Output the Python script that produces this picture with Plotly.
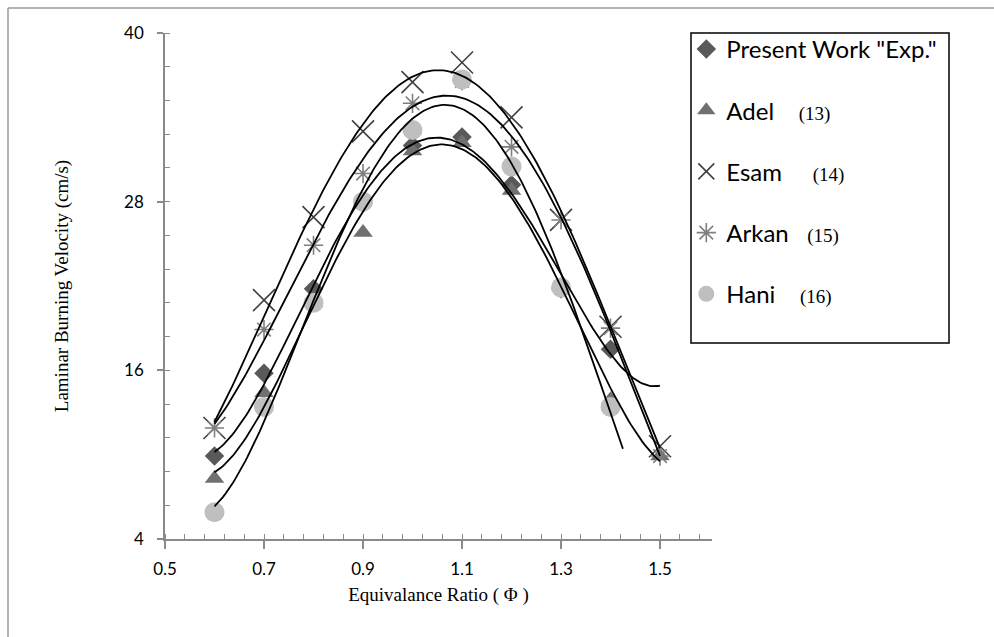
import numpy as np
import plotly.graph_objects as go

# Equivalence ratios for each data set
phi_present = [0.6, 0.7, 0.8, 0.9, 1.0, 1.1, 1.2, 1.3, 1.4]
phi_adel = [0.6, 0.7, 0.8, 0.9, 1.0, 1.1, 1.2, 1.3, 1.4, 1.5]
phi_esam = [0.6, 0.7, 0.8, 0.9, 1.0, 1.1, 1.2, 1.3, 1.4, 1.5]
phi_arkan = [0.6, 0.7, 0.8, 0.9, 1.0, 1.1, 1.2, 1.3, 1.4, 1.5]
phi_hani = [0.6, 0.7, 0.8, 0.9, 1.0, 1.1, 1.2, 1.3, 1.4]

# Laminar burning velocities (cm/s)
su_present = [9.9, 15.8, 21.8, 27.9, 32.0, 32.6, 29.2, 21.8, 17.5]
su_adel = [8.3, 14.4, 20.8, 25.8, 31.6, 32.2, 28.8, 22.0, 13.9, 9.9]
su_esam = [11.9, 21.0, 26.9, 33.0, 36.5, 37.9, 34.0, 26.7, 19.1, 10.6]
su_arkan = [11.9, 18.9, 24.9, 30.0, 35.0, 36.6, 31.9, 26.7, 19.0, 9.9]
su_hani = [5.9, 13.4, 20.8, 28.0, 33.1, 36.7, 30.5, 21.9, 13.4]

# Upper end of each polynomial trend line
trend_end = [1.5, 1.5, 1.5, 1.5, 1.425]
trend_order = 4

ref_style = 'font-family:Liberation Serif;font-size:19px'
names = [
    'Present Work "Exp."',
    f'Adel\u00a0\u00a0\u00a0\u00a0<span style="{ref_style}">(13)</span>',
    f'Esam\u00a0\u00a0\u00a0\u00a0\u00a0<span style="{ref_style}">(14)</span>',
    f'Arkan\u00a0\u00a0\u00a0<span style="{ref_style}">(15)</span>',
    f'Hani\u00a0\u00a0\u00a0\u00a0<span style="{ref_style}">(16)</span>',
]
xs_all = [phi_present, phi_adel, phi_esam, phi_arkan, phi_hani]
ys_all = [su_present, su_adel, su_esam, su_arkan, su_hani]
markers = [
    dict(symbol="diamond", size=15, color="#595959"),
    dict(symbol="triangle-up", size=17, color="#707070"),
    dict(symbol="x-thin", size=22, color="#404040", line=dict(width=1.6, color="#404040")),
    dict(symbol="asterisk", size=16, color="#7f7f7f", line=dict(width=1.6, color="#7f7f7f")),
    dict(symbol="circle", size=20, color="#bfbfbf"),
]

fig = go.Figure()

for i, (x, y) in enumerate(zip(xs_all, ys_all)):
    fig.add_trace(go.Scatter(
        x=x, y=y, mode="markers", name=names[i],
        legendgroup=f"g{i}", marker=markers[i],
    ))

# Polynomial trend lines drawn over the markers
for i, (x, y) in enumerate(zip(xs_all, ys_all)):
    coeffs = np.polyfit(x, y, trend_order)
    xf = np.linspace(x[0], trend_end[i], 200)
    yf = np.polyval(coeffs, xf)
    fig.add_trace(go.Scatter(
        x=xf, y=yf, mode="lines", legendgroup=f"g{i}", showlegend=False,
        line=dict(color="black", width=1.8), hoverinfo="skip",
    ))

axis_color = "#8a8a8a"
tick_font = dict(family="Lato, Noto Sans, sans-serif", size=17, color="black")
title_font = dict(family="Liberation Serif, Times New Roman, serif", size=19, color="black")

fig.update_layout(
    width=994, height=637,
    margin=dict(l=165, r=282, t=33, b=98),
    paper_bgcolor="white", plot_bgcolor="white",
    showlegend=True,
    legend=dict(
        x=0.953, y=1.012, xanchor="left", yanchor="top",
        bgcolor="rgba(0,0,0,0)", borderwidth=0,
        font=dict(family="Lato, Noto Sans, sans-serif", size=24, color="black"),
        traceorder="grouped", tracegroupgap=27,
    ),
    xaxis=dict(
        range=[0.5, 1.605], tickvals=[0.5, 0.7, 0.9, 1.1, 1.3, 1.5],
        ticktext=["0.5", "0.7", "0.9", "1.1", "1.3", "1.5"],
        showline=True, linecolor=axis_color, linewidth=1.5,
        ticks="outside", ticklen=8, tickwidth=1.5, tickcolor=axis_color,
        minor=dict(dtick=0.04, tick0=0.5, ticks="inside", ticklen=5, tickwidth=1, tickcolor=axis_color),
        showgrid=False, zeroline=False, tickfont=tick_font, ticklabelstandoff=6,
        title=dict(text="Equivalance Ratio ( \u03a6 )", font=title_font, standoff=10),
    ),
    yaxis=dict(
        range=[4, 40], tick0=4, dtick=12,
        showline=True, linecolor=axis_color, linewidth=1.5,
        ticks="outside", ticklen=6, tickwidth=1.5, tickcolor=axis_color,
        minor=dict(dtick=2.4, tick0=4, ticks="inside", ticklen=5, tickwidth=1, tickcolor=axis_color),
        showgrid=False, zeroline=False, tickfont=tick_font, ticklabelstandoff=10,
        title=dict(text="Laminar Burning Velocity (cm/s)", font=title_font, standoff=50),
    ),
    shapes=[
        # legend frame
        dict(type="rect", xref="paper", yref="paper", x0=0.9616, x1=1.4333, y0=0.3874, y1=1.0,
             fillcolor="white", line=dict(color="black", width=1.5), layer="above"),
        # outer chart frame (top and left edges)
        dict(type="line", xref="paper", yref="paper", x0=-0.287, x1=1.52, y0=1.0494, y1=1.0494,
             line=dict(color="#9a9a9a", width=1.5)),
        dict(type="line", xref="paper", yref="paper", x0=-0.287, x1=-0.287, y0=-0.2, y1=1.0494,
             line=dict(color="#9a9a9a", width=1.5)),
    ],
)

fig.write_html("out.html")
